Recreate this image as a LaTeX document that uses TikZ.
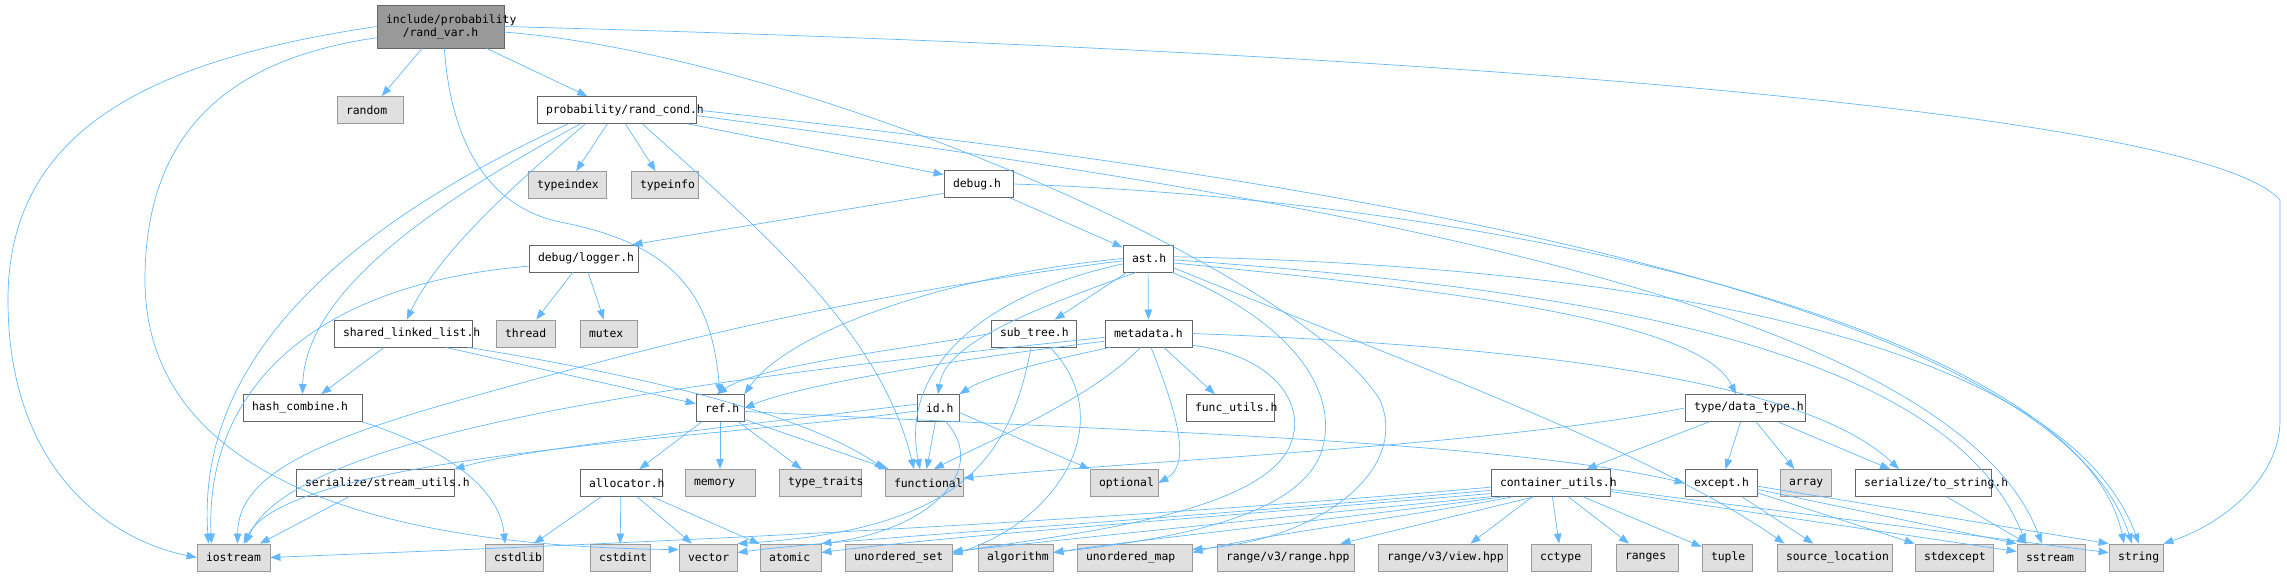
\documentclass[tikz,border=0pt]{standalone}
\usepackage{fontspec}
\setmonofont{DejaVu Sans Mono}
\usepackage{tikz}
\usetikzlibrary{arrows.meta}
\definecolor{edge}{HTML}{63B8FF}
\definecolor{nodeline}{HTML}{666666}
\definecolor{sysline}{HTML}{999999}
\definecolor{sysfill}{HTML}{E0E0E0}
\definecolor{curfill}{HTML}{999999}
\hyphenpenalty=10000

\begin{document}
\begin{tikzpicture}[
   x=1pt, y=-1pt,
   font=\ttfamily\fontsize{11.4}{13}\selectfont,
   >={Triangle[length=10pt,width=7.5pt]},
   hdr/.style={draw=nodeline, fill=white, line width=0.8pt, align=left,
               text width=#1, inner xsep=9pt, inner ysep=2pt, minimum height=27pt},
   sys/.style={hdr=#1, draw=sysline, fill=sysfill},
   cur/.style={hdr=#1, fill=curfill, align=center, minimum height=43pt},
   dep/.style={->, draw=edge, line width=0.7pt},
]
\useasboundingbox (0,0) rectangle (2287,576);

% ---- project headers ----
\node[cur=109pt] (rand_var) at (440.5,26.5) {include/probability\\/rand\_var.h};
\node[hdr=141pt] (rand_cond) at (616.5,110) {probability/rand\_cond.h};
\node[hdr=51pt] (debug) at (978.5,184) {debug.h};
\node[hdr=91pt] (logger) at (583.5,258.5) {debug/logger.h};
\node[hdr=32pt] (ast) at (1148,258.5) {ast.h};
\node[hdr=120pt] (sll) at (403,333.5) {shared\_linked\_list.h};
\node[hdr=67pt] (subtree) at (1033.5,333.5) {sub\_tree.h};
\node[hdr=69pt] (metadata) at (1148.5,333.5) {metadata.h};
\node[hdr=101pt] (hashcomb) at (302.5,408) {hash\_combine.h};
\node[hdr=30pt] (ref) at (720,408) {ref.h};
\node[hdr=24pt] (id) at (938,408) {id.h};
\node[hdr=70pt] (funcutils) at (1230,408) {func\_utils.h};
\node[hdr=102pt] (datatype) at (1745,408) {type/data\_type.h};
\node[hdr=140pt] (streamutils) at (375,483) {serialize/stream\_utils.h};
\node[hdr=64pt] (allocator) at (621,483) {allocator.h};
\node[hdr=101pt] (contutils) at (1550.5,483) {container\_utils.h};
\node[hdr=54pt] (except) at (1721,483) {except.h};
\node[hdr=118pt] (tostring) at (1923,483) {serialize/to\_string.h};

% ---- system headers ----
\node[sys=48pt] (random) at (370,110) {random};
\node[sys=60pt] (typeindex) at (567,185) {typeindex};
\node[sys=49pt] (typeinfo) at (664.5,185) {typeinfo};
\node[sys=41pt] (thread) at (525.5,333.5) {thread};
\node[sys=39pt] (mutex) at (608.5,333.5) {mutex};
\node[sys=52pt] (memory) at (720,483) {memory};
\node[sys=64pt] (typetraits) at (820,483) {type\_traits};
\node[sys=60pt] (functional) at (924,483) {functional};
\node[sys=50pt] (optional) at (1124,483) {optional};
\node[sys=33pt] (array) at (1805.5,483) {array};
\node[sys=55pt] (iostream) at (233.5,557.5) {iostream};
\node[sys=40pt] (cstdlib) at (514,557.5) {cstdlib};
\node[sys=42pt] (cstdint) at (620,557.5) {cstdint};
\node[sys=40pt] (vector) at (708,557.5) {vector};
\node[sys=43pt] (atomic) at (790.5,557.5) {atomic};
\node[sys=89pt] (uset) at (898.5,557.5) {unordered\_set};
\node[sys=57pt] (algorithm) at (1015.5,557.5) {algorithm};
\node[sys=97pt] (umap) at (1134.5,557.5) {unordered\_map};
\node[sys=119pt] (rangehpp) at (1285.5,557.5) {range/v3/range.hpp};
\node[sys=111pt] (viewhpp) at (1442.5,557.5) {range/v3/view.hpp};
\node[sys=42pt] (cctype) at (1561,557.5) {cctype};
\node[sys=44pt] (ranges) at (1647,557.5) {ranges};
\node[sys=32pt] (tuple) at (1727,557.5) {tuple};
\node[sys=97pt] (srcloc) at (1834.5,557.5) {source\_location};
\node[sys=60pt] (stdexcept) at (1954,557.5) {stdexcept};
\node[sys=50pt] (sstream) at (2051,557.5) {sstream};
\node[sys=36pt] (string) at (2136,557.5) {string};

% ---- include/probability/rand_var.h ----
\draw[dep] (rand_var) -- (random);
\draw[dep] (rand_var) -- (rand_cond);
\draw[dep] (rand_var.-80) .. controls (450,130) and (480,205) .. (560,222) .. controls (680,245) and (712,300) .. (ref.north);
\draw[dep] (rand_var.west) .. controls (150,60) and (8,130) .. (8,300) .. controls (8,470) and (110,540) .. (iostream.west);
\draw[dep] (rand_var.-170) .. controls (220,60) and (145,140) .. (145,280) .. controls (145,440) and (300,545) .. (vector.165);
\draw[dep] (rand_var.east) .. controls (1400,50) and (2200,110) .. (2280,200) -- (2280,420) .. controls (2280,480) and (2220,525) .. (string.north east);
\draw[dep] (rand_var.-5) .. controls (800,55) and (1300,270) .. (1380,400) .. controls (1410,470) and (1320,540) .. (umap.8);

% ---- probability/rand_cond.h ----
\draw[dep] (rand_cond) -- (typeindex);
\draw[dep] (rand_cond) -- (typeinfo);
\draw[dep] (rand_cond.-11) -- (debug.165);
\draw[dep] (rand_cond.-156) .. controls (520,180) and (440,250) .. (sll.75);
\draw[dep] (rand_cond.-159) .. controls (440,200) and (305,290) .. (hashcomb.north);
\draw[dep] (rand_cond.-164) .. controls (360,220) and (195,350) .. ([xshift=-25pt]iostream.north);
\draw[dep] ([xshift=26pt]rand_cond.south) .. controls (760,230) and (880,330) .. ([xshift=-10pt]functional.north);
\draw[dep] (rand_cond.east) .. controls (1300,175) and (2050,290) .. ([xshift=-4pt]string.north);
\draw[dep] (rand_cond.-4) .. controls (1300,195) and (1950,300) .. ([xshift=-9pt]sstream.north);

% ---- debug ----
\draw[dep] (debug.-165) -- ([xshift=-6pt]logger.north east);
\draw[dep] (debug) -- (ast);
\draw[dep] (debug.east) .. controls (1500,200) and (2080,330) .. ([xshift=-12pt]string.north);
\draw[dep] (logger) -- (thread);
\draw[dep] (logger) -- (mutex);
\draw[dep] (logger.-172) .. controls (300,285) and (205,400) .. ([xshift=-22pt]iostream.north);

% ---- shared_linked_list.h, hash_combine.h ----
\draw[dep] (sll) -- (hashcomb);
\draw[dep] (sll.-18) -- (ref.170);
\draw[dep] (sll.-12) .. controls (700,385) and (820,425) .. (functional.north west);
\draw[dep] (hashcomb.south east) .. controls (450,450) and (500,490) .. ([xshift=-9pt]cstdlib.north);

% ---- ast.h ----
\draw[dep] (ast) -- (subtree);
\draw[dep] (ast) -- (metadata);
\draw[dep] (ast.west) .. controls (950,275) and (790,330) .. (ref.north east);
\draw[dep] (ast.-130) .. controls (1000,320) and (945,350) .. (id.north);
\draw[dep] (ast.-175) .. controls (820,300) and (640,350) .. (460,400) .. controls (300,445) and (238,480) .. ([xshift=4pt]iostream.north);
\draw[dep] (ast.-168) .. controls (980,295) and (900,370) .. ([xshift=-4pt]functional.north);
\draw[dep] (ast.-10) .. controls (1450,290) and (1700,320) .. ([xshift=-9pt]datatype.north);
\draw[dep] (ast.-3) .. controls (1600,290) and (1950,350) .. ([xshift=-25pt]sstream.north);
\draw[dep] (ast.4) .. controls (1600,265) and (2060,330) .. ([xshift=3pt]string.north);
\draw[dep] (ast.-20) .. controls (1400,360) and (1650,450) .. ([xshift=-50pt]srcloc.north);
\draw[dep] (ast.-30) .. controls (1290,320) and (1340,390) .. (1322,450) .. controls (1300,520) and (1160,540) .. ([yshift=5pt]algorithm.east);

% ---- metadata.h ----
\draw[dep] (metadata.-170) .. controls (950,360) and (800,385) .. (ref.east);
\draw[dep] (metadata.-160) .. controls (1050,360) and (990,375) .. (id.north east);
\draw[dep] (metadata) -- (funcutils);
\draw[dep] (metadata.-175) .. controls (800,370) and (300,420) .. ([xshift=12pt]iostream.north);
\draw[dep] (metadata.-120) .. controls (1090,400) and (990,440) .. ([xshift=10pt]functional.north);
\draw[dep] (metadata.-80) .. controls (1180,420) and (1190,465) .. (optional.east);
\draw[dep] (metadata.east) .. controls (1500,345) and (1800,375) .. ([xshift=-24pt]tostring.north);
\draw[dep] (metadata.-15) .. controls (1270,355) and (1305,400) .. (1292,440) .. controls (1270,515) and (1060,535) .. ([yshift=5pt]uset.east);

% ---- sub_tree.h, id.h ----
\draw[dep] (subtree.west) .. controls (900,350) and (760,365) .. ([xshift=-3pt]ref.north);
\draw[dep] (subtree.-100) .. controls (1010,460) and (960,530) .. (vector.north east);
\draw[dep] (subtree.-40) .. controls (1120,420) and (1060,520) .. ([yshift=3pt]uset.east);
\draw[dep] (id) -- (functional);
\draw[dep] (id.-12) -- (optional.north west);
\draw[dep] (id.-60) .. controls (990,470) and (930,530) .. (atomic.north east);
\draw[dep] (id.-172) .. controls (700,440) and (290,455) .. ([xshift=10pt]iostream.north);
\draw[dep] (id.170) .. controls (700,430) and (520,450) .. (streamutils.north east);

% ---- ref.h, allocator.h, stream_utils.h ----
\draw[dep] (ref) -- (allocator);
\draw[dep] (ref) -- (memory);
\draw[dep] (ref) -- (typetraits);
\draw[dep] (ref.-25) -- ([xshift=4pt]functional.north west);
\draw[dep] (ref.-8) .. controls (1100,430) and (1500,440) .. (except.west);
\draw[dep] (allocator) -- (cstdlib);
\draw[dep] (allocator) -- (cstdint);
\draw[dep] (allocator) -- (vector);
\draw[dep] (allocator) -- (atomic);
\draw[dep] (streamutils) -- (iostream);

% ---- type/data_type.h, except.h, to_string.h ----
\draw[dep] (datatype) -- (contutils);
\draw[dep] (datatype) -- (except);
\draw[dep] (datatype) -- (array);
\draw[dep] (datatype) -- (tostring);
\draw[dep] (datatype.west) .. controls (1500,445) and (1150,460) .. ([yshift=5pt]functional.east);
\draw[dep] (except) -- (srcloc);
\draw[dep] (except.-15) -- (stdexcept.north west);
\draw[dep] (except.-10) -- (sstream.north west);
\draw[dep] (except.-5) -- (string.north west);
\draw[dep] (tostring) -- (sstream);

% ---- container_utils.h ----
\draw[dep] (contutils.-176) .. controls (1000,530) and (500,548) .. (iostream.east);
\draw[dep] (contutils.-173) .. controls (1100,525) and (850,538) .. ([yshift=5pt]vector.east);
\draw[dep] (contutils.-170) .. controls (1150,522) and (950,536) .. ([yshift=5pt]atomic.east);
\draw[dep] (contutils.-167) .. controls (1250,520) and (1080,538) .. ([yshift=6pt]uset.east);
\draw[dep] (contutils.-164) .. controls (1350,518) and (1150,538) .. ([yshift=5pt]algorithm.east);
\draw[dep] (contutils.-160) .. controls (1420,515) and (1260,535) .. ([yshift=5pt]umap.east);
\draw[dep] (contutils.-140) -- ([xshift=55pt]rangehpp.north);
\draw[dep] (contutils) -- ([xshift=28pt]viewhpp.north);
\draw[dep] (contutils) -- (cctype);
\draw[dep] (contutils) -- (ranges);
\draw[dep] (contutils) -- (tuple);
\draw[dep] (contutils.-8) -- (sstream.170);
\draw[dep] (contutils.-6) -- (string.170);
\end{tikzpicture}
\end{document}
